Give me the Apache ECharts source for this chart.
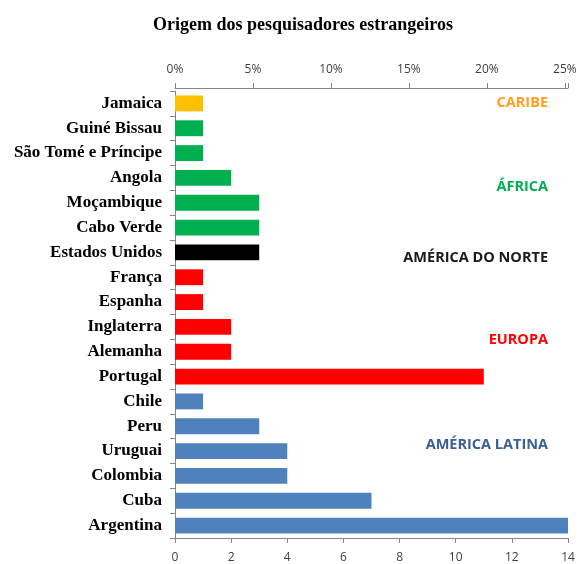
<!DOCTYPE html>
<html>
<head>
<meta charset="utf-8">
<script src="https://cdn.jsdelivr.net/npm/echarts@6/dist/echarts.min.js"></script>
<style>
  html, body { margin: 0; padding: 0; background: #fff; }
  #main { width: 584px; height: 564px; }
</style>
</head>
<body>
<div id="main"></div>
<script>
var paises = ['Jamaica', 'Guiné Bissau', 'São Tomé e Príncipe', 'Angola', 'Moçambique', 'Cabo Verde',
  'Estados Unidos', 'França', 'Espanha', 'Inglaterra', 'Alemanha', 'Portugal',
  'Chile', 'Peru', 'Uruguai', 'Colombia', 'Cuba', 'Argentina'];
var pesquisadores = [1, 1, 1, 2, 3, 3, 3, 1, 1, 2, 2, 11, 1, 3, 4, 4, 7, 14];
var regiao = ['CARIBE', 'ÁFRICA', 'ÁFRICA', 'ÁFRICA', 'ÁFRICA', 'ÁFRICA',
  'AMÉRICA DO NORTE', 'EUROPA', 'EUROPA', 'EUROPA', 'EUROPA', 'EUROPA',
  'AMÉRICA LATINA', 'AMÉRICA LATINA', 'AMÉRICA LATINA', 'AMÉRICA LATINA', 'AMÉRICA LATINA', 'AMÉRICA LATINA'];
var corBarra = {
  'CARIBE': '#FFC000',
  'ÁFRICA': '#00B050',
  'AMÉRICA DO NORTE': '#000000',
  'EUROPA': '#FF0000',
  'AMÉRICA LATINA': '#4F81BD'
};
var corTexto = {
  'CARIBE': '#FFA020',
  'ÁFRICA': '#00B050',
  'AMÉRICA DO NORTE': '#1a1a1a',
  'EUROPA': '#FF0000',
  'AMÉRICA LATINA': '#3A5F96'
};
// label row positions (pixels) for the region names
var rotulos = [
  { nome: 'CARIBE', y: 101 },
  { nome: 'ÁFRICA', y: 185 },
  { nome: 'AMÉRICA DO NORTE', y: 256 },
  { nome: 'EUROPA', y: 338 },
  { nome: 'AMÉRICA LATINA', y: 443 }
];

var chart = echarts.init(document.getElementById('main'));

var option = {
  animation: false,
  title: {
    text: 'Origem dos pesquisadores estrangeiros',
    left: 298,
    textAlign: 'center',
    top: 11,
    textStyle: {
      fontFamily: 'Liberation Serif',
      fontWeight: 'bold',
      fontSize: 18,
      color: '#000'
    }
  },
  grid: { left: 175, right: 16, top: 91, bottom: 23, containLabel: false },
  xAxis: [
    {
      type: 'value',
      position: 'bottom',
      min: 0,
      max: 14,
      interval: 2,
      splitLine: { show: false },
      axisLine: { show: true, lineStyle: { color: '#868686' } },
      axisTick: { show: true, length: 5, lineStyle: { color: '#868686' } },
      axisLabel: { fontFamily: 'Open Sans', fontSize: 12, color: '#404040', margin: 14 }
    },
    {
      type: 'value',
      position: 'top',
      offset: 3,
      min: 0,
      max: 25.2,
      interval: 5,
      splitLine: { show: false },
      axisLine: { show: true, lineStyle: { color: '#868686' } },
      axisTick: { show: true, length: 5, lineStyle: { color: '#868686' } },
      axisLabel: {
        fontFamily: 'Open Sans', fontSize: 12, color: '#404040', margin: 12,
        formatter: function (v) { return v % 5 === 0 ? v + '%' : ''; }
      }
    }
  ],
  yAxis: {
    type: 'category',
    inverse: true,
    data: paises,
    axisLine: { show: true, lineStyle: { color: '#868686' } },
    axisTick: { show: true, length: 5, lineStyle: { color: '#868686' } },
    axisLabel: {
      fontFamily: 'Liberation Serif',
      fontWeight: 'bold',
      fontSize: 17,
      color: '#000',
      margin: 13
    }
  },
  series: [
    {
      type: 'bar',
      xAxisIndex: 0,
      barCategoryGap: '36%',
      data: pesquisadores.map(function (v, i) {
        return { value: v, itemStyle: { color: corBarra[regiao[i]] } };
      })
    }
  ],
  graphic: rotulos.map(function (r) {
    return {
      type: 'text',
      right: 36,
      top: r.y - 6,
      style: {
        text: r.nome,
        fill: corTexto[r.nome],
        font: 'bold 14.5px "Open Sans"'
      }
    };
  })
};

chart.setOption(option);
</script>
</body>
</html>
